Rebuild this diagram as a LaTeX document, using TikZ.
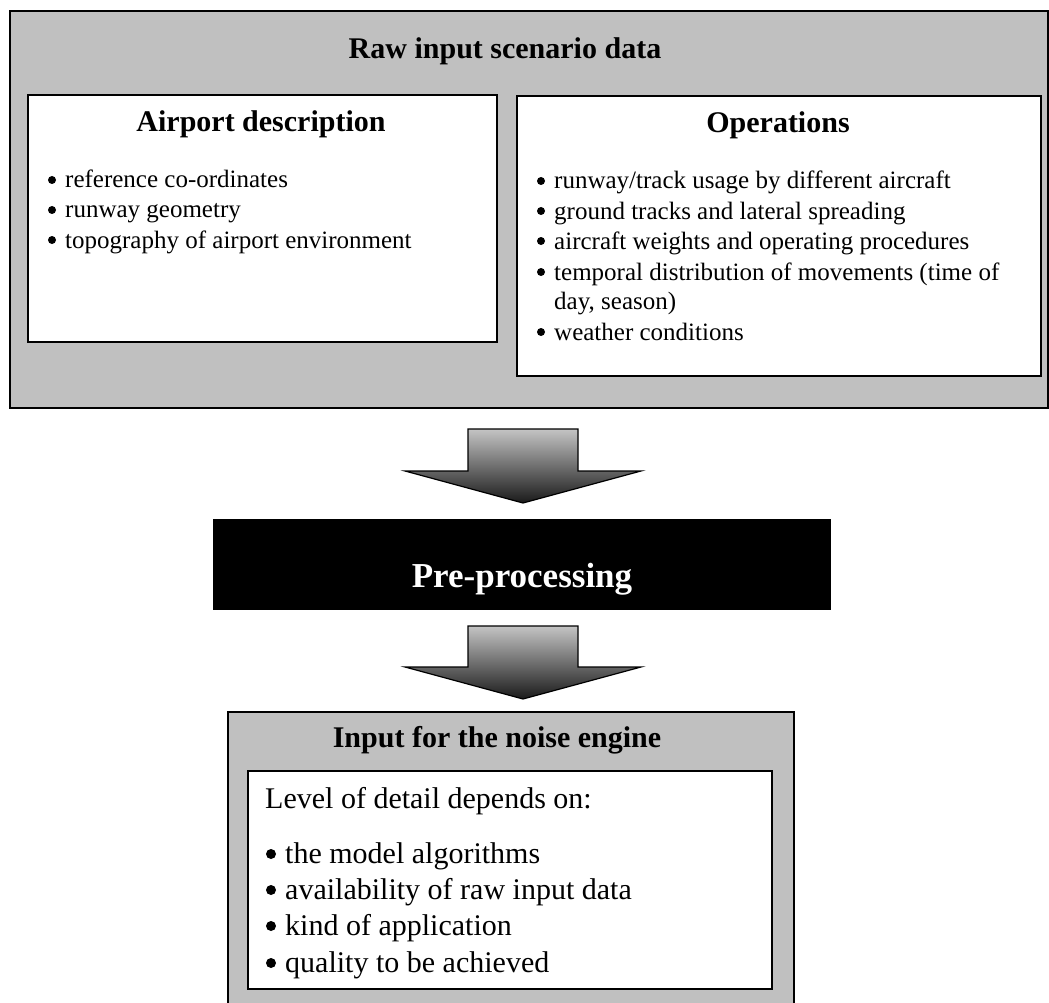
\documentclass[tikz,border=0pt]{standalone}
\usepackage{fontspec}
\setmainfont{Liberation Serif}
\begin{document}
\begin{tikzpicture}[x=1pt,y=-1pt,
  graybox/.style={draw=black,line width=1.8pt,fill=boxgray,rectangle,inner sep=0pt,anchor=north west},
  whitebox/.style={draw=black,line width=1.8pt,fill=white,rectangle,inner sep=0pt,anchor=north west},
  title/.style={inner sep=0pt,anchor=base,font=\fontsize{30}{36}\selectfont\bfseries},
  itemS/.style={inner sep=0pt,anchor=base west,font=\fontsize{25}{30}\selectfont},
  itemL/.style={inner sep=0pt,anchor=base west,font=\fontsize{30}{36}\selectfont},
  blockarrow/.style={draw=black,line width=1.2pt,top color=arrowtop,bottom color=arrowbot,line join=miter}
]
\definecolor{boxgray}{HTML}{C0C0C0}
\definecolor{arrowtop}{HTML}{C4C4C4}
\definecolor{arrowbot}{HTML}{1A1A1A}
\useasboundingbox (0,0) rectangle (1049,1003);
\fill[white] (0,0) rectangle (1049,1003);

% top box
\node[graybox,minimum width=1038pt,minimum height=397pt] (raw) at (9,10) {};
\node[title] (rawt) at (505,59) {Raw input scenario data};

\node[whitebox,minimum width=469pt,minimum height=247pt] (apt) at (27,94) {};
\node[title] (aptt) at (261,132) {Airport description};
\node[itemS] (a1) at (65,188) {reference co-ordinates};
\node[itemS] (a2) at (65,218) {runway geometry};
\node[itemS] (a3) at (65,248) {topography of airport environment};
\foreach \n in {a1,a2,a3}
  \fill ([shift={(-13,-8)}]\n.base west) circle (4pt);

\node[whitebox,minimum width=524pt,minimum height=280pt] (ops) at (516,95) {};
\node[title] (opst) at (778,133) {Operations};
\node[itemS] (o1) at (554,189) {runway/track usage by different aircraft};
\node[itemS] (o2) at (554,219) {ground tracks and lateral spreading};
\node[itemS] (o3) at (554,249) {aircraft weights and operating procedures};
\node[itemS] (o4) at (554,280) {temporal distribution of movements (time of};
\node[itemS] (o4b) at (554,309) {day, season)};
\node[itemS] (o5) at (554,340) {weather conditions};
\foreach \n in {o1,o2,o3,o4,o5}
  \fill ([shift={(-13,-8)}]\n.base west) circle (4pt);

% arrow 1
\path[blockarrow] (468,429) -- (578,429) -- (578,471) -- (641,471) -- (523,503) -- (405,471) -- (468,471) -- cycle;

% pre-processing
\node[fill=black,draw=black,rectangle,inner sep=0pt,anchor=north west,minimum width=617pt,minimum height=90pt] (pre) at (213,519) {};
\node[inner sep=0pt,anchor=base,text=white,font=\fontsize{35}{42}\selectfont\bfseries] (pret) at (522,587) {Pre-processing};

% arrow 2
\path[blockarrow] (468,626) -- (578,626) -- (578,667) -- (641,667) -- (523,699) -- (405,667) -- (468,667) -- cycle;

% bottom box
\node[graybox,minimum width=566pt,minimum height=310pt] (inp) at (227,711) {};
\node[title] (inpt) at (497,747) {Input for the noise engine};
\node[whitebox,minimum width=524pt,minimum height=218pt] (lvl) at (247,770) {};
\node[itemL] (l0) at (265,808) {Level of detail depends on:};
\node[itemL] (l1) at (285,863) {the model algorithms};
\node[itemL] (l2) at (285,899) {availability of raw input data};
\node[itemL] (l3) at (285,935) {kind of application};
\node[itemL] (l4) at (285,972) {quality to be achieved};
\foreach \n in {l1,l2,l3,l4}
  \fill ([shift={(-14,-9)}]\n.base west) circle (5pt);
\end{tikzpicture}
\end{document}
